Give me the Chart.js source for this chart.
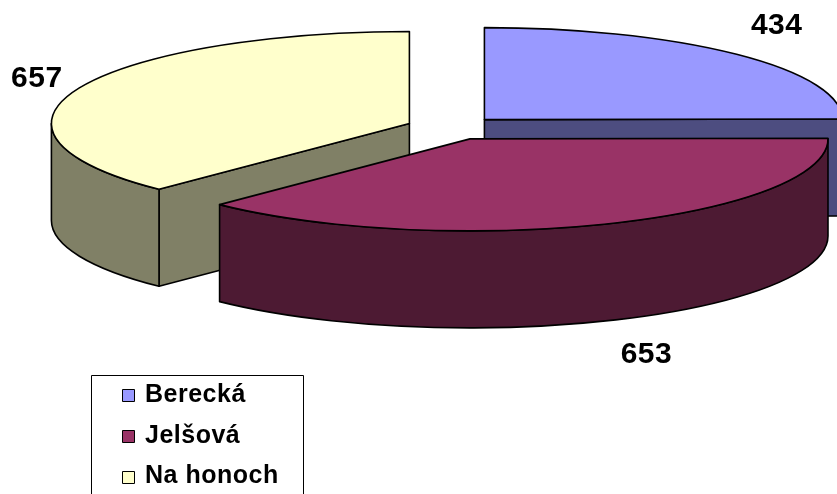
<!DOCTYPE html>
<html>
<head>
<meta charset="utf-8">
<script src="https://cdn.jsdelivr.net/npm/chart.js@4.4.1/dist/chart.umd.min.js"></script>
<style>
  html, body { margin: 0; padding: 0; background: #fff; }
  #wrap { width: 837px; height: 494px; }
</style>
</head>
<body>
<div id="wrap"><canvas id="pieChart" width="837" height="494"></canvas></div>
<script>
const sliceLabels = ['Berecká', 'Jelšová', 'Na honoch'];
const sliceValues = [434, 653, 657];
const topColors = ['#9999FF', '#993366', '#FFFFCC'];
const sideColors = ['#4D4D80', '#4D1A33', '#808066'];

// tilted pie look
const pieCenterX = 452;
const pieCenterY = 128;
const ellipseRx = 358;
const ellipseRy = 92;
const pieDepth = 97;
const explodeDist = 46;
const labelGap = 24;
const labelNudge = [[5, -4], [17, 2], [5, 3]];

function explodedCenter(h) {
  return {
    x: pieCenterX + Math.cos(h) * explodeDist,
    y: pieCenterY + Math.sin(h) * explodeDist * ellipseRy / ellipseRx
  };
}

function wallPath(ctx, cx, cy, a1, a2) {
  ctx.beginPath();
  ctx.ellipse(cx, cy, ellipseRx, ellipseRy, 0, a1, a2);
  ctx.ellipse(cx, cy + pieDepth, ellipseRx, ellipseRy, 0, a2, a1, true);
  ctx.closePath();
}

function facePath(ctx, cx, cy, a) {
  const px = cx + Math.cos(a) * ellipseRx;
  const py = cy + Math.sin(a) * ellipseRy;
  ctx.beginPath();
  ctx.moveTo(cx, cy);
  ctx.lineTo(px, py);
  ctx.lineTo(px, py + pieDepth);
  ctx.lineTo(cx, cy + pieDepth);
  ctx.closePath();
}

function paintSide(ctx, color) {
  ctx.fillStyle = color;
  ctx.fill();
  ctx.stroke();
}

const tiltedPie = {
  id: 'tiltedPie',
  beforeDatasetsDraw(chart) {
    const ctx = chart.ctx;
    const arcs = chart.getDatasetMeta(0).data;
    const midAngle = arc => (arc.startAngle + arc.endAngle) / 2;

    // back slices first
    const order = arcs.map((arc, i) => i)
      .sort((a, b) => Math.sin(midAngle(arcs[a])) - Math.sin(midAngle(arcs[b])));

    ctx.save();
    ctx.lineWidth = 1.6;
    ctx.strokeStyle = '#000';
    ctx.lineJoin = 'round';

    for (const i of order) {
      const arc = arcs[i];
      const s = arc.startAngle;
      const e = arc.endAngle;
      const c = explodedCenter(midAngle(arc));

      // side walls
      if (Math.cos(s) < -0.001) {
        facePath(ctx, c.x, c.y, s);
        paintSide(ctx, sideColors[i]);
      }
      if (Math.cos(e) > 0.001) {
        facePath(ctx, c.x, c.y, e);
        paintSide(ctx, sideColors[i]);
      }
      const a1 = Math.max(s, 0);
      const a2 = Math.min(e, Math.PI);
      if (a2 > a1) {
        wallPath(ctx, c.x, c.y, a1, a2);
        paintSide(ctx, sideColors[i]);
      }

      // top face, drawn by the arc element itself
      ctx.save();
      ctx.translate(c.x, c.y);
      ctx.scale(ellipseRx / arc.outerRadius, ellipseRy / arc.outerRadius);
      ctx.translate(-arc.x, -arc.y);
      arc.draw(ctx);
      ctx.restore();

      ctx.beginPath();
      ctx.moveTo(c.x, c.y);
      ctx.ellipse(c.x, c.y, ellipseRx, ellipseRy, 0, s, e);
      ctx.closePath();
      ctx.stroke();
    }

    // value labels
    ctx.fillStyle = '#000';
    ctx.font = 'bold 30px "Liberation Sans", Arial, sans-serif';
    ctx.letterSpacing = '0.5px';
    ctx.textAlign = 'center';
    ctx.textBaseline = 'middle';
    arcs.forEach((arc, i) => {
      const h = midAngle(arc);
      const c = explodedCenter(h);
      const text = String(sliceValues[i]);
      const w = ctx.measureText(text).width;
      let px = c.x + Math.cos(h) * ellipseRx;
      let py = c.y + Math.sin(h) * ellipseRy;
      if (Math.sin(h) > 0) py += pieDepth;
      const lx = px + Math.cos(h) * (w / 2 + labelGap) + labelNudge[i][0];
      const ly = py + Math.sin(h) * (11 + labelGap) + labelNudge[i][1];
      ctx.fillText(text, lx, ly);
    });

    // legend box
    ctx.lineWidth = 1;
    ctx.strokeStyle = '#000';
    ctx.strokeRect(91.5, 375.5, 212, 140);
    ctx.font = 'bold 25px "Liberation Sans", Arial, sans-serif';
    ctx.letterSpacing = '0.5px';
    ctx.textAlign = 'left';
    sliceLabels.forEach((label, i) => {
      const rowY = 395 + i * 40.8;
      const top = Math.round(rowY - 6) + 0.5;
      ctx.fillStyle = topColors[i];
      ctx.fillRect(122.5, top, 12, 12);
      ctx.strokeRect(122.5, top, 12, 12);
      ctx.fillStyle = '#000';
      ctx.fillText(label, 145, rowY);
    });
    ctx.letterSpacing = '0px';
    ctx.restore();

    return false;
  }
};

new Chart(document.getElementById('pieChart'), {
  type: 'pie',
  data: {
    labels: sliceLabels,
    datasets: [{
      data: sliceValues,
      backgroundColor: topColors,
      borderWidth: 0,
      offset: 0
    }]
  },
  options: {
    responsive: false,
    animation: false,
    events: [],
    radius: 150,
    layout: { padding: 0 },
    plugins: {
      legend: { display: false },
      tooltip: { enabled: false }
    }
  },
  plugins: [tiltedPie]
});
</script>
</body>
</html>
